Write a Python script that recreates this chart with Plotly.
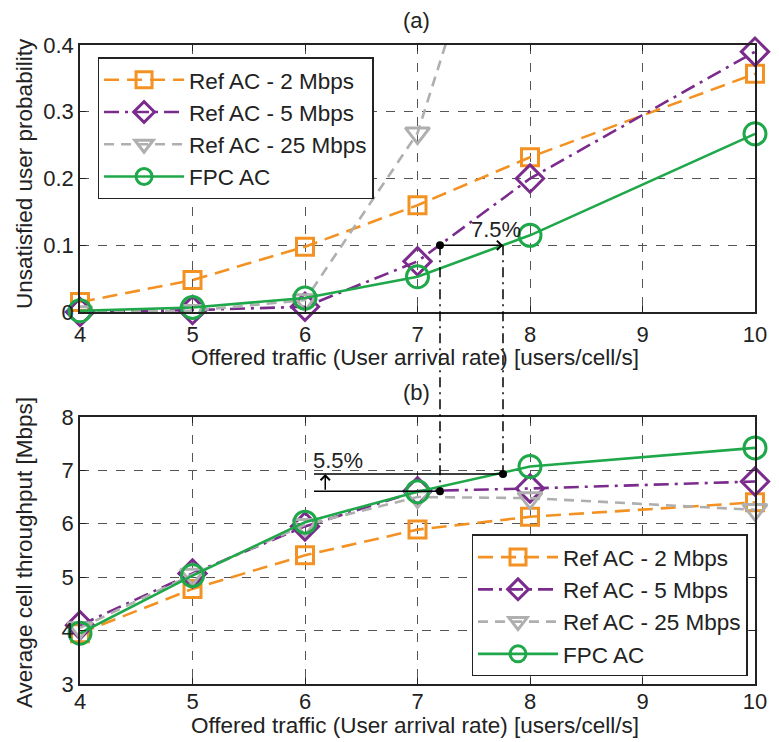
import plotly.graph_objects as go

# ---------------- data ----------------
x_rate = [4, 5, 6, 7, 8, 10]
series_names = ["Ref AC - 2 Mbps", "Ref AC - 5 Mbps", "Ref AC - 25 Mbps", "FPC AC"]

# (a) unsatisfied user probability
unsat_ref2 = [0.015, 0.048, 0.098, 0.160, 0.232, 0.357]
unsat_ref5 = [0.000, 0.003, 0.008, 0.076, 0.200, 0.390]
unsat_ref25 = [0.000, 0.002, 0.018, 0.268, 0.800, 1.000]
unsat_fpc = [0.002, 0.007, 0.021, 0.053, 0.115, 0.267]

# (b) average cell throughput [Mbps]
thr_ref2 = [3.95, 4.78, 5.41, 5.89, 6.13, 6.40]
thr_ref5 = [4.10, 5.07, 5.95, 6.61, 6.66, 6.79]
thr_ref25 = [4.05, 5.05, 5.98, 6.50, 6.48, 6.26]
thr_fpc = [3.95, 5.03, 6.03, 6.60, 7.07, 7.42]

top_ticks = [0, 0.1, 0.2, 0.3, 0.4]
top_ticktext = ["0", "0.1", "0.2", "0.3", "0.4"]
bot_ticks = [3, 4, 5, 6, 7, 8]
x_ticks = [4, 5, 6, 7, 8, 9, 10]

# annotation values
gain_x_from = 7.2      # Ref AC 5 Mbps reaches 0.1
gain_x_to = 7.76       # FPC AC reaches 0.1
gain_level = 0.1
gain_label_a = "7.5%"
thr_low = 6.61
thr_high = 6.93
thr_line_start = 6.08
thr_arrow_x = 6.18
gain_label_b = "5.5%"

# ---------------- style ----------------
FONT = "Liberation Sans, Arial, Helvetica, sans-serif"
TXT = "#222222"
colors = ["#F39223", "#7A2B8C", "#AFAFAF", "#1FA84A"]
symbols = ["square-open", "diamond-open", "triangle-down-open", "circle-open"]
msizes = [17, 21, 21, 22]
dashes = ["15px,8px", "15px,6px,3px,6px", "10px,7px", "solid"]

W, H = 779, 742
ML, MR, MT, MB = 80, 12, 45, 58
PW, PH = W - ML - MR, H - MT - MB
top_dom = [0.582, 1.0]
bot_dom = [0.0, 0.418]
XR = [4, 10]
YR_TOP = [0, 0.4]
YR_BOT = [3, 8]
TICK_FS = 22
TEXT_FS = 22.5

fig = go.Figure()

top_data = [unsat_ref2, unsat_ref5, unsat_ref25, unsat_fpc]
bot_data = [thr_ref2, thr_ref5, thr_ref25, thr_fpc]

for i, name in enumerate(series_names):
    fig.add_trace(go.Scatter(
        x=x_rate, y=top_data[i], name=name, mode="lines+markers",
        line=dict(color=colors[i], width=2.6, dash=dashes[i]),
        marker=dict(symbol=symbols[i], size=msizes[i], color=colors[i],
                    line=dict(color=colors[i], width=3)),
        cliponaxis=(i == 2), xaxis="x", yaxis="y",
        legend="legend", legendgroup="a%d" % i,
    ))
for i, name in enumerate(series_names):
    fig.add_trace(go.Scatter(
        x=x_rate, y=bot_data[i], name=name, mode="lines+markers",
        line=dict(color=colors[i], width=2.6, dash=dashes[i]),
        marker=dict(symbol=symbols[i], size=msizes[i], color=colors[i],
                    line=dict(color=colors[i], width=3)),
        cliponaxis=False, xaxis="x2", yaxis="y2",
        legend="legend2", legendgroup="b%d" % i,
    ))

# black dots
fig.add_trace(go.Scatter(x=[gain_x_from], y=[gain_level], mode="markers",
                         marker=dict(color="black", size=8), showlegend=False,
                         xaxis="x", yaxis="y", cliponaxis=False))
fig.add_trace(go.Scatter(x=[gain_x_from, gain_x_to], y=[thr_low, thr_high], mode="markers",
                         marker=dict(color="black", size=8), showlegend=False,
                         xaxis="x2", yaxis="y2", cliponaxis=False))


def px_x(v):
    return (v - XR[0]) / (XR[1] - XR[0])


def py_top(v):
    return top_dom[0] + (v - YR_TOP[0]) / (YR_TOP[1] - YR_TOP[0]) * (top_dom[1] - top_dom[0])


def py_bot(v):
    return bot_dom[0] + (v - YR_BOT[0]) / (YR_BOT[1] - YR_BOT[0]) * (bot_dom[1] - bot_dom[0])


def pap_x(pix):
    return (pix - ML) / PW


def pap_y(pix):
    return (H - MB - pix) / PH


shapes = []
# vertical dash-dot connectors between the two panels
for xv, yb in [(gain_x_from, thr_low), (gain_x_to, thr_high)]:
    shapes.append(dict(type="line", xref="paper", yref="paper",
                       x0=px_x(xv), x1=px_x(xv), y0=py_top(gain_level), y1=py_bot(yb),
                       line=dict(color="black", width=1.5, dash="10px,5px,2px,5px")))
# horizontal lines in (b)
shapes.append(dict(type="line", xref="x2", yref="y2", x0=thr_line_start, x1=gain_x_to,
                   y0=thr_high, y1=thr_high, line=dict(color="black", width=1.5)))
shapes.append(dict(type="line", xref="x2", yref="y2", x0=thr_line_start, x1=gain_x_from,
                   y0=thr_low, y1=thr_low, line=dict(color="black", width=1.5)))


def txt(x, y, text, size=TEXT_FS, angle=0, xref="paper", yref="paper"):
    return dict(x=x, y=y, xref=xref, yref=yref, text=text, showarrow=False,
                xanchor="center", yanchor="middle", textangle=angle,
                font=dict(family=FONT, size=size, color=TXT))


annotations = [
    # arrow (a)
    dict(x=gain_x_to, y=gain_level, ax=gain_x_from, ay=gain_level, xref="x", yref="y",
         axref="x", ayref="y", text="", showarrow=True, arrowhead=4, arrowsize=1.2,
         arrowwidth=1.5, arrowcolor="black"),
    txt(7.70, 0.123, gain_label_a, size=TICK_FS, xref="x", yref="y"),
    # arrow (b)
    dict(x=thr_arrow_x, y=thr_high, ax=thr_arrow_x, ay=thr_low, xref="x2", yref="y2",
         axref="x2", ayref="y2", text="", showarrow=True, arrowhead=4, arrowsize=1.2,
         arrowwidth=1.5, arrowcolor="black"),
    txt(6.29, 7.19, gain_label_b, size=TICK_FS, xref="x2", yref="y2"),
    # panel titles
    txt(pap_x(422), pap_y(20), "(a)", size=TICK_FS),
    txt(pap_x(422), pap_y(392), "(b)", size=TICK_FS),
    # axis titles
    txt(pap_x(421), pap_y(357), "Offered traffic (User arrival rate) [users/cell/s]"),
    txt(pap_x(421), pap_y(725), "Offered traffic (User arrival rate) [users/cell/s]"),
    txt(pap_x(23), pap_y(173), "Unsatisfied user probability", angle=-90),
    txt(pap_x(23), pap_y(552), "Average cell throughput [Mbps]", angle=-90),
]

axis_common = dict(
    showline=True, linecolor="#222222", linewidth=1.6, mirror="allticks",
    ticks="inside", ticklen=6, tickwidth=1.2, tickcolor="#222222",
    showgrid=True, gridcolor="#555555", gridwidth=1, griddash="dash",
    zeroline=False, tickfont=dict(family=FONT, size=TICK_FS, color=TXT),
)

legend_common = dict(
    bgcolor="white", bordercolor="#222222", borderwidth=1.5,
    font=dict(family=FONT, size=TEXT_FS, color=TXT), itemwidth=80,
    tracegroupgap=0, xanchor="left", yanchor="top",
)

fig.update_layout(
    width=W, height=H, margin=dict(l=ML, r=MR, t=MT, b=MB),
    paper_bgcolor="white", plot_bgcolor="white",
    font=dict(family=FONT, size=TICK_FS, color=TXT),
    xaxis=dict(axis_common, domain=[0, 1], range=XR, tickvals=x_ticks, anchor="y",
               ticklabelstandoff=2),
    yaxis=dict(axis_common, domain=top_dom, range=YR_TOP, tickvals=top_ticks,
               ticktext=top_ticktext, anchor="x"),
    xaxis2=dict(axis_common, domain=[0, 1], range=XR, tickvals=x_ticks, anchor="y2",
                ticklabelstandoff=-3),
    yaxis2=dict(axis_common, domain=bot_dom, range=YR_BOT, tickvals=bot_ticks, anchor="x2"),
    legend=dict(legend_common, x=0.026, y=0.981),
    legend2=dict(legend_common, x=0.58, y=0.234),
    shapes=shapes, annotations=annotations,
)

fig.write_html("out.html")
